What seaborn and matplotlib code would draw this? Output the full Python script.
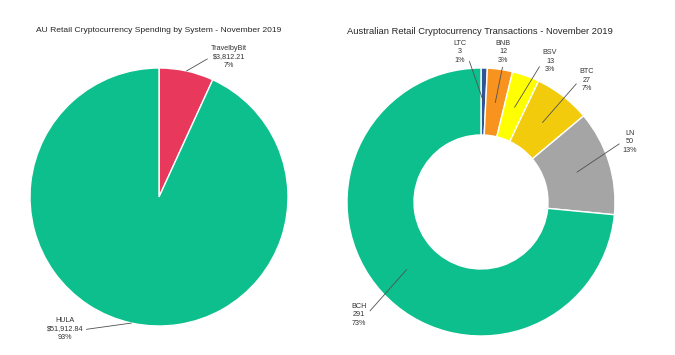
import numpy as np
import matplotlib
matplotlib.use('Agg')
import matplotlib.pyplot as plt
import seaborn as sns

# spending by system (AUD)
systems = ['TravelbyBit', 'HULA']
spend = [3812.21, 51912.84]

# transactions by coin
coins = ['LTC', 'BNB', 'BSV', 'BTC', 'LN', 'BCH']
tx_counts = [3, 12, 13, 27, 50, 291]

sys_colors = ['#E8385B', '#0DBF8C']
coin_colors = ['#2F5597', '#F7931E', '#FFFF00', '#F2CC0C', '#A5A5A5', '#0DBF8C']

# label text positions (in pie radius units) and where the leader leaves the text
sys_label_pos = [(0.54, 1.085), (-0.73, -1.02)]
sys_relpos = [(0, 0.5), (1, 0.45)]
coin_label_pos = [(-0.16, 1.12), (0.165, 1.12), (0.515, 1.05), (0.79, 0.91), (1.11, 0.45), (-0.91, -0.84)]
coin_relpos = [(1, 0.5), (0.5, 0), (0, 0.5), (0, 0.5), (0, 0.5), (1, 0.5)]

sns.set_style('white')
plt.rcParams['font.family'] = ['Liberation Sans', 'DejaVu Sans']
txt_col = '#333333'

W, H = 675, 355
fig = plt.figure(figsize=(W/100, H/100), dpi=100)


def pie_axes(cx, cy, r, L):
    # square axes in pixel units, pie radius 1 maps to r pixels
    size = 2*L*r
    ax = fig.add_axes([(cx - size/2)/W, (H - cy - size/2)/H, size/W, size/H])
    ax.axis('off')
    return ax


def fix_limits(ax, L):
    # pie() resets the limits, so set them again afterwards
    ax.set_xlim(-L, L)
    ax.set_ylim(-L, L)
    ax.set_aspect('equal')


def add_labels(ax, wedges, names, values, pcts, anchor_r, pos, relpos):
    for w, n, v, p, xy, rp in zip(wedges, names, values, pcts, pos, relpos):
        ang = np.deg2rad((w.theta1 + w.theta2)/2)
        anchor = (anchor_r*np.cos(ang), anchor_r*np.sin(ang))
        ax.annotate(f'{n}\n{v}\n{p}%', xy=anchor, xytext=xy, ha='center', va='center',
                    fontsize=5.2, color=txt_col, linespacing=1.3, annotation_clip=False,
                    arrowprops=dict(arrowstyle='-', color='#505050', lw=0.6,
                                    shrinkA=0, shrinkB=0, relpos=rp))


# left: full pie
ax1 = pie_axes(159, 197, 129, 1.2)
w1, _ = ax1.pie(spend, colors=sys_colors, startangle=90, counterclock=False,
                wedgeprops=dict(edgecolor='white', linewidth=1))
fix_limits(ax1, 1.2)
tot1 = sum(spend)
add_labels(ax1, w1, systems, [f'${v:,.2f}' for v in spend],
           [round(100*v/tot1) for v in spend], 1.0, sys_label_pos, sys_relpos)

# right: donut
ax2 = pie_axes(481, 202, 134, 1.3)
w2, _ = ax2.pie(tx_counts, colors=coin_colors, startangle=90, counterclock=False,
                wedgeprops=dict(width=0.5, edgecolor='white', linewidth=1))
fix_limits(ax2, 1.3)
tot2 = sum(tx_counts)
add_labels(ax2, w2, coins, tx_counts, [round(100*v/tot2) for v in tx_counts],
           0.75, coin_label_pos, coin_relpos)

fig.text(159/W, 1 - 31/H, 'AU Retail Cryptocurrency Spending by System - November 2019',
         ha='center', va='center', fontsize=6.1, color='#262626')
fig.text(480/W, 1 - 31/H, 'Australian Retail Cryptocurrency Transactions - November 2019',
         ha='center', va='center', fontsize=6.75, color='#262626')

fig.savefig('out.png', dpi=100)
